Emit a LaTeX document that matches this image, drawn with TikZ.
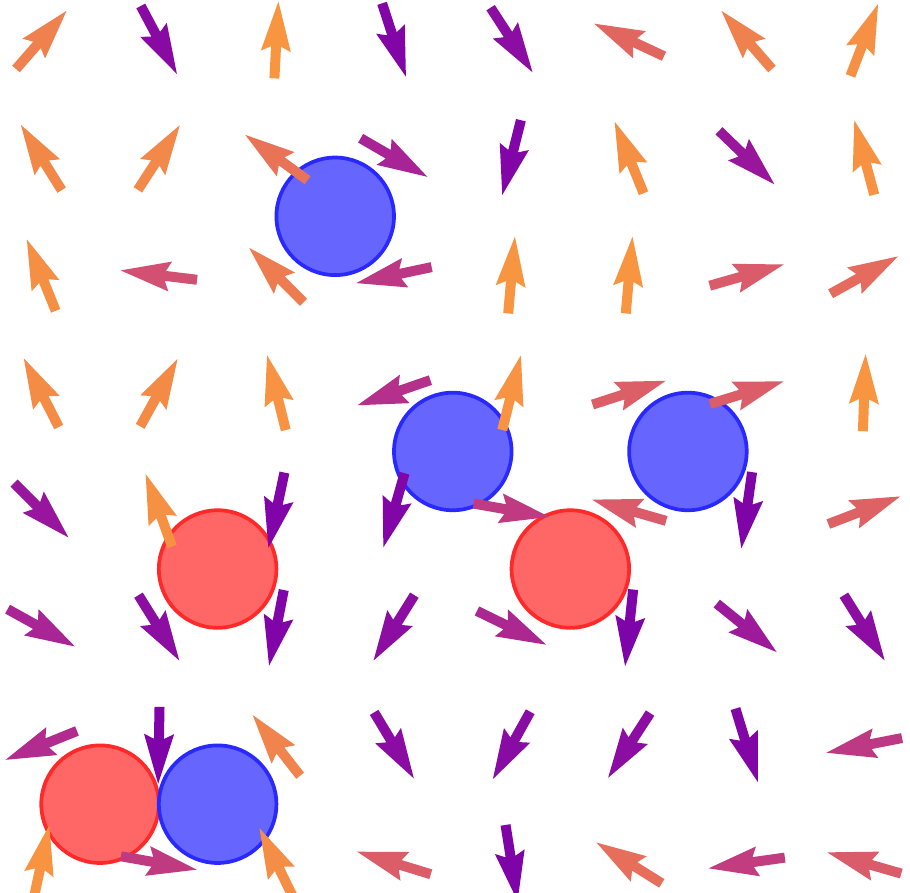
\documentclass[tikz,border=0pt]{standalone}
\usepackage{xcolor}
\usepackage{tikz}
\definecolor{pl0}{HTML}{7E03A8}
\definecolor{pl1}{HTML}{A82395}
\definecolor{pl2}{HTML}{CC4778}
\definecolor{pl3}{HTML}{E56C5C}
\definecolor{pl4}{HTML}{F89540}
\definecolor{negfill}{HTML}{6666FF}
\definecolor{negedge}{HTML}{2929FF}
\definecolor{posfill}{HTML}{FF6666}
\definecolor{posedge}{HTML}{FF2929}
% colour of an arrow from the sine of its angle
\newcommand\setarrowcolor[1]{%
  \pgfmathsetmacro\sv{sin(#1)}%
  \ifdim\sv pt<-0.5pt
    \pgfmathsetmacro\pc{min(100,max(0,(\sv+1)*200))}\colorlet{arrowcol}{pl1!\pc!pl0}%
  \else\ifdim\sv pt<0pt
    \pgfmathsetmacro\pc{min(100,max(0,(\sv+0.5)*200))}\colorlet{arrowcol}{pl2!\pc!pl1}%
  \else\ifdim\sv pt<0.5pt
    \pgfmathsetmacro\pc{min(100,max(0,\sv*200))}\colorlet{arrowcol}{pl3!\pc!pl2}%
  \else
    \pgfmathsetmacro\pc{min(100,max(0,(\sv-0.5)*200))}\colorlet{arrowcol}{pl4!\pc!pl3}%
  \fi\fi\fi}

\begin{document}
\begin{tikzpicture}[
  negcharge/.style={draw=negedge,fill=negfill,line width=0.9pt},
  poscharge/.style={draw=posedge,fill=posfill,line width=0.9pt}]
  \clip (-0.351,-0.255) rectangle (7.389,7.34);
  % charges
  \draw[negcharge] (2.5,5.5) circle (0.5);
  \draw[negcharge] (3.5,3.5) circle (0.5);
  \draw[negcharge] (5.5,3.5) circle (0.5);
  \draw[poscharge] (1.5,2.5) circle (0.5);
  \draw[poscharge] (4.5,2.5) circle (0.5);
  \draw[poscharge] (0.5,0.5) circle (0.5);
  \draw[negcharge] (1.5,0.5) circle (0.5);
  % arrow field, one list per row from the top
  \foreach \row [count=\j from 0] in {
    {49,-62,87,-72,-57,155,131,69},
    {122,57,144,-30,-104,112,-44,105},
    {112,173,135,-168,85,85,16,29},
    {117,61,104,-161,76,18,17,88},
    {-45,110,-102,-106,-10,164,-98,21},
    {-29,-58,-101,-122,-26,-96,-39,-58},
    {-158,-91,128,-59,-119,-123,-73,-169},
    {78,-10,116,163,-81,148,-172,164}} {
    \foreach \a [count=\i from 0] in \row {
      \setarrowcolor{\a}
      \begin{scope}[shift={(\i,7-\j)},rotate=\a]
        \fill[arrowcol] (-0.3275,-0.0425) -- (-0.0555,-0.0425) -- (-0.0975,-0.128)
          -- (0.3275,0) -- (-0.0975,0.128) -- (-0.0555,0.0425) -- (-0.3275,0.0425) -- cycle;
      \end{scope}
    }
  }
\end{tikzpicture}
\end{document}
